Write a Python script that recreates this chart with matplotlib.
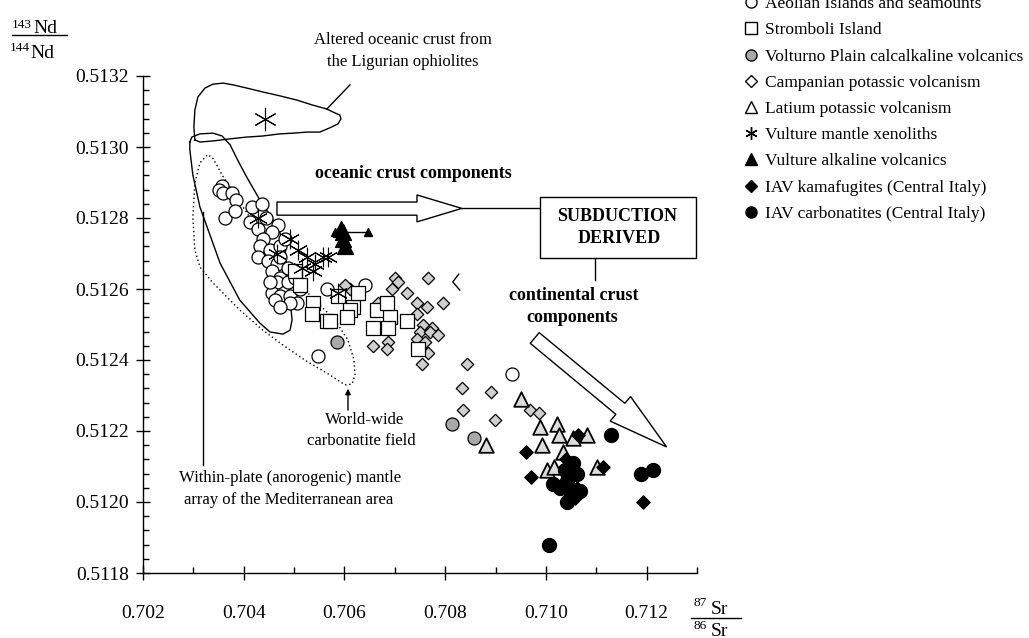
import numpy as np
import matplotlib.pyplot as plt
from matplotlib.lines import Line2D
from matplotlib.patches import Polygon, Rectangle
from matplotlib.ticker import MultipleLocator, FormatStrFormatter

plt.rcParams['font.family'] = ['Liberation Serif', 'DejaVu Serif']

# 87Sr/86Sr , 143Nd/144Nd
aeolian = [(0.70357, 0.51289), (0.70351, 0.51288), (0.70359, 0.51287), (0.70377, 0.51287),
           (0.70385, 0.51285), (0.70363, 0.51280), (0.70383, 0.51282), (0.70416, 0.51283),
           (0.70436, 0.51284), (0.70444, 0.51280), (0.70412, 0.51279), (0.70428, 0.51277),
           (0.70468, 0.51278), (0.70456, 0.51276), (0.70438, 0.51274), (0.70432, 0.51272),
           (0.70452, 0.51271), (0.70472, 0.51272), (0.70428, 0.51269), (0.70448, 0.51268),
           (0.70466, 0.51267), (0.70472, 0.51269), (0.70456, 0.51265), (0.70472, 0.51263),
           (0.70466, 0.51262), (0.70488, 0.51262), (0.70456, 0.51259), (0.70472, 0.51258),
           (0.70462, 0.51257), (0.70492, 0.51258), (0.70506, 0.51256), (0.70492, 0.51256),
           (0.70472, 0.51255), (0.70512, 0.51260), (0.70502, 0.51263), (0.70565, 0.51260),
           (0.70640, 0.51261), (0.70932, 0.51236), (0.70547, 0.51241), (0.70482, 0.51274),
           (0.70488, 0.51266), (0.70452, 0.51262)]
stromboli = [(0.70502, 0.51265), (0.70512, 0.51261), (0.70537, 0.51256), (0.70535, 0.51253),
             (0.70565, 0.51251), (0.70587, 0.51258), (0.70617, 0.51255), (0.70627, 0.51259),
             (0.70656, 0.51249), (0.70664, 0.51254), (0.70611, 0.51254), (0.70605, 0.51252),
             (0.70690, 0.51252), (0.70684, 0.51256), (0.70686, 0.51249), (0.70724, 0.51251),
             (0.70571, 0.51251), (0.70746, 0.51243)]
volturno = [(0.70585, 0.51245), (0.70813, 0.51222), (0.70857, 0.51218)]
campanian = [(0.70611, 0.51260), (0.70700, 0.51263), (0.70706, 0.51262), (0.70694, 0.51260),
             (0.70724, 0.51259), (0.70765, 0.51263), (0.70795, 0.51256), (0.70744, 0.51256),
             (0.70666, 0.51256), (0.70764, 0.51255), (0.70744, 0.51253), (0.70756, 0.51250),
             (0.70773, 0.51249), (0.70750, 0.51248), (0.70769, 0.51248), (0.70785, 0.51247),
             (0.70744, 0.51246), (0.70760, 0.51245), (0.70765, 0.51242), (0.70656, 0.51244),
             (0.70686, 0.51245), (0.70684, 0.51243), (0.70754, 0.51239), (0.70843, 0.51239),
             (0.70833, 0.51232), (0.70890, 0.51231), (0.70835, 0.51226), (0.70898, 0.51223),
             (0.70968, 0.51226), (0.70986, 0.51225), (0.70601, 0.51261)]
latium = [(0.70881, 0.51216), (0.70950, 0.51229), (0.70988, 0.51221), (0.71023, 0.51222),
          (0.71025, 0.51219), (0.71081, 0.51219), (0.71053, 0.51218), (0.70992, 0.51216),
          (0.71033, 0.51214), (0.71002, 0.51209), (0.71016, 0.51210), (0.71101, 0.51210)]
xenoliths = [(0.70428, 0.51280), (0.70466, 0.51270), (0.70508, 0.51271), (0.70525, 0.51269),
             (0.70541, 0.51267), (0.70557, 0.51269), (0.70567, 0.51269), (0.70537, 0.51265),
             (0.70516, 0.51266), (0.70492, 0.51274), (0.70587, 0.51259)]
ligurian = [(0.70442, 0.51308)]
alkaline = [(0.70597, 0.51276), (0.70597, 0.51274), (0.70601, 0.51272), (0.70593, 0.51277)]
alkaline_range = [(0.70581, 0.51276), (0.70646, 0.51276)]
kamafugites = [(0.70960, 0.51214), (0.70970, 0.51207), (0.71063, 0.51219), (0.71113, 0.51210),
               (0.71192, 0.51200), (0.71057, 0.51201), (0.71047, 0.51209), (0.71061, 0.51204),
               (0.71039, 0.51212)]
carbonatites = [(0.71129, 0.51219), (0.71188, 0.51208), (0.71212, 0.51209), (0.71006, 0.51188),
                (0.71041, 0.51200), (0.71014, 0.51205), (0.71041, 0.51206), (0.71053, 0.51211),
                (0.71061, 0.51208), (0.71067, 0.51203), (0.71047, 0.51203), (0.71037, 0.51209),
                (0.71027, 0.51204)]

legend_labels = ["Aeolian Islands and seamounts", "Stromboli Island",
                 "Volturno Plain calcalkaline volcanics", "Campanian potassic volcanism",
                 "Latium potassic volcanism", "Vulture mantle xenoliths",
                 "Vulture alkaline volcanics", "IAV kamafugites (Central Italy)",
                 "IAV carbonatites (Central Italy)"]

# field outlines
ligurian_field_x = [0.70303, 0.70301, 0.70303, 0.70309, 0.70323, 0.70339, 0.70359, 0.70379, 0.70406,
                    0.70438, 0.70472, 0.70506, 0.70537, 0.70565, 0.70581, 0.70591, 0.70593, 0.70587,
                    0.70571, 0.70551, 0.70525, 0.70498, 0.70472, 0.70438, 0.70406, 0.70373, 0.70339,
                    0.70313, 0.70303]
ligurian_field_y = [0.513020, 0.513056, 0.513104, 0.513141, 0.513166, 0.513177, 0.513180, 0.513175,
                    0.513166, 0.513155, 0.513144, 0.513132, 0.513118, 0.513107, 0.513096, 0.513090,
                    0.513079, 0.513065, 0.513054, 0.513042, 0.513042, 0.513039, 0.513037, 0.513031,
                    0.513028, 0.513023, 0.513017, 0.513014, 0.513020]
mantle_x = [0.70293, 0.70297, 0.70313, 0.70339, 0.70357, 0.70373, 0.70388, 0.70406, 0.70432, 0.70456,
            0.70472, 0.70482, 0.70486, 0.70492, 0.70496, 0.70492, 0.70478, 0.70452, 0.70432, 0.70392,
            0.70353, 0.70313, 0.70299, 0.70293, 0.70293]
mantle_y = [0.513014, 0.513028, 0.513037, 0.513039, 0.513031, 0.513006, 0.512963, 0.512915, 0.512851,
            0.512800, 0.512758, 0.512710, 0.512662, 0.512569, 0.512513, 0.512484, 0.512473, 0.512479,
            0.512504, 0.512569, 0.512673, 0.512831, 0.512921, 0.512992, 0.513014]
carb_field_x = [0.70327, 0.70313, 0.70303, 0.70299, 0.70303, 0.70313, 0.70339, 0.70392, 0.70438,
                0.70472, 0.70521, 0.70571, 0.70601, 0.70615, 0.70621, 0.70619, 0.70607, 0.70581,
                0.70541, 0.70502, 0.70462, 0.70422, 0.70383, 0.70357, 0.70343, 0.70337, 0.70327]
carb_field_y = [0.512977, 0.512955, 0.512899, 0.512803, 0.512710, 0.512662, 0.512617, 0.512541,
                0.512484, 0.512448, 0.512400, 0.512358, 0.512330, 0.512332, 0.512358, 0.512400,
                0.512456, 0.512513, 0.512569, 0.512625, 0.512696, 0.512780, 0.512865, 0.512921,
                0.512958, 0.512972, 0.512977]

W, H = 1029, 638
fig = plt.figure(figsize=(W / 100, H / 100), dpi=100)
ax = fig.add_axes([143 / W, 1 - 573 / H, (697 - 143) / W, (573 - 76) / H])
ax.set_xlim(0.702, 0.713)
ax.set_ylim(0.5118, 0.5132)
for s in ['top', 'right']:
    ax.spines[s].set_visible(False)
for s in ['left', 'bottom']:
    ax.spines[s].set_linewidth(1.0)
ax.xaxis.set_major_locator(MultipleLocator(0.002))
ax.xaxis.set_minor_locator(MultipleLocator(0.001))
ax.yaxis.set_major_locator(MultipleLocator(0.0002))
ax.yaxis.set_minor_locator(MultipleLocator(0.00004))
ax.xaxis.set_major_formatter(FormatStrFormatter('%.3f'))
ax.yaxis.set_major_formatter(FormatStrFormatter('%.4f'))
ax.tick_params(which='major', direction='inout', length=10, width=1, labelsize=14)
ax.tick_params(which='minor', direction='in', length=4.5, width=1)
ax.tick_params(axis='x', which='major', pad=18)
ax.tick_params(axis='y', which='major', pad=5)

# fields
ax.plot(ligurian_field_x, ligurian_field_y, color='black', lw=1.0, clip_on=False, zorder=1)
ax.plot(mantle_x, mantle_y, color='black', lw=1.0, zorder=1)
ax.plot(carb_field_x, carb_field_y, color='black', lw=1.0, ls=(0, (1, 2)), zorder=1)
ax.plot([0.70319, 0.70319], [0.512817, 0.512104], color='black', lw=1.0, zorder=1)
ax.plot([0.70565, 0.70611], [0.513107, 0.513175], color='black', lw=1.0, clip_on=False)
ax.annotate('', xy=(0.70607, 0.512327), xytext=(0.70607, 0.512251),
            arrowprops=dict(arrowstyle='-|>', color='black', lw=1.0, mutation_scale=8))
ax.plot([0.70827, 0.70815, 0.70829], [0.512642, 0.512620, 0.512597], color='black', lw=1.0)

# open arrows and box
ax.add_patch(Polygon([(0.70466, 0.512845), (0.70744, 0.512845), (0.70744, 0.512865),
                      (0.70833, 0.512827), (0.70744, 0.512789), (0.70744, 0.512808),
                      (0.70466, 0.512808)], closed=True, fc='white', ec='black', lw=1.0, zorder=3))
ax.plot([0.70833, 0.70988], [0.512827, 0.512827], color='black', lw=1.0)
ax.add_patch(Rectangle((0.70988, 0.512687), 0.00311, 0.000172, fc='white', ec='black',
                       lw=1.0, clip_on=False, zorder=3))
ax.plot([0.71097, 0.71097], [0.512687, 0.512625], color='black', lw=1.0)
ax.add_patch(Polygon([(0.709867, 0.512477), (0.711567, 0.512278), (0.711681, 0.512297),
                      (0.712397, 0.512155), (0.711276, 0.512228), (0.711389, 0.512247),
                      (0.709689, 0.512447)], closed=True, fc='white', ec='black', lw=1.0, zorder=3))


def pts(series):
    a = np.array(series)
    return a[:, 0], a[:, 1]


ek = dict(edgecolors='black', linewidths=0.9)
ax.scatter(*pts(aeolian), s=88, marker='o', facecolors='white', zorder=4, **ek)
ax.scatter(*pts(campanian), s=40, marker='D', facecolors='#cfcfcf', zorder=5, **ek)
ax.scatter(*pts(stromboli), s=100, marker='s', facecolors='white', zorder=5, **ek)
ax.scatter(*pts(volturno), s=88, marker='o', facecolors='#a9a9a9', zorder=5, **ek)
ax.scatter(*pts(latium), s=110, marker='^', facecolors='#dcdcdc', zorder=5,
           edgecolors='black', linewidths=1.3)
ax.scatter(*pts(xenoliths), s=180, marker=(6, 2, 0), color='black', linewidths=0.8, zorder=6)
ax.scatter(*pts(ligurian), s=260, marker=(6, 2, 0), color='black', linewidths=0.8, zorder=6)
ax.plot(*pts(alkaline_range), color='black', lw=1.0, marker='^', ms=6, zorder=6)
ax.scatter(*pts(alkaline), s=130, marker='^', color='black', zorder=6)
ax.scatter(*pts(kamafugites), s=45, marker='D', color='black', zorder=6)
ax.scatter(*pts(carbonatites), s=100, marker='o', color='black', zorder=6)

# legend
handles = [
    Line2D([], [], ls='none', marker='o', mfc='white', mec='black', ms=8),
    Line2D([], [], ls='none', marker='s', mfc='white', mec='black', ms=8),
    Line2D([], [], ls='none', marker='o', mfc='#a9a9a9', mec='black', ms=8),
    Line2D([], [], ls='none', marker='D', mfc='white', mec='black', ms=6),
    Line2D([], [], ls='none', marker='^', mfc='white', mec='black', ms=9),
    Line2D([], [], ls='none', marker=(6, 2, 0), color='black', ms=9),
    Line2D([], [], ls='none', marker='^', color='black', ms=9),
    Line2D([], [], ls='none', marker='D', color='black', ms=6),
    Line2D([], [], ls='none', marker='o', color='black', ms=8),
]
ax.legend(handles, legend_labels, loc='upper left', bbox_to_anchor=(742 / W, 1 + 4 / H),
          bbox_transform=fig.transFigure, frameon=False, fontsize=12.5, handlelength=1.0,
          handletextpad=0.3, labelspacing=0.58, borderpad=0, borderaxespad=0)


def ftext(x, y, s, **kw):
    fig.text(x / W, 1 - y / H, s, **kw)


ftext(403, 40, "Altered oceanic crust from", ha='center', va='center', fontsize=12)
ftext(403, 62, "the Ligurian ophiolites", ha='center', va='center', fontsize=12)
ftext(413, 174, "oceanic crust components", ha='center', va='center', fontsize=13, fontweight='bold')
ftext(617, 217, "SUBDUCTION", ha='center', va='center', fontsize=13, fontweight='bold')
ftext(619, 238, "DERIVED", ha='center', va='center', fontsize=13, fontweight='bold')
ftext(574, 295, "continental crust", ha='center', va='center', fontsize=13, fontweight='bold')
ftext(572, 317, "components", ha='center', va='center', fontsize=13, fontweight='bold')
ftext(365, 420, "World-wide", ha='center', va='center', fontsize=12)
ftext(361, 441, "carbonatite field", ha='center', va='center', fontsize=12)
ftext(290, 478, "Within-plate (anorogenic) mantle", ha='center', va='center', fontsize=12)
ftext(289, 500, "array of the Mediterranean area", ha='center', va='center', fontsize=12)

# axis fraction labels
ftext(12, 28, "143", fontsize=9.5, va='baseline')
ftext(33, 33, "Nd", fontsize=14, va='baseline')
fig.add_artist(Line2D([12 / W, 67 / W], [1 - 34.5 / H, 1 - 34.5 / H], color='black', lw=1.0))
ftext(10, 51, "144", fontsize=9.5, va='baseline')
ftext(30, 58, "Nd", fontsize=14, va='baseline')

ftext(694, 606, "87", fontsize=9.5, va='baseline')
ftext(711, 614, "Sr", fontsize=14, va='baseline')
fig.add_artist(Line2D([691 / W, 741 / W], [1 - 618 / H, 1 - 618 / H], color='black', lw=1.0))
ftext(694, 629, "86", fontsize=9.5, va='baseline')
ftext(711, 636, "Sr", fontsize=14, va='baseline')

fig.savefig('out.png', dpi=100)
